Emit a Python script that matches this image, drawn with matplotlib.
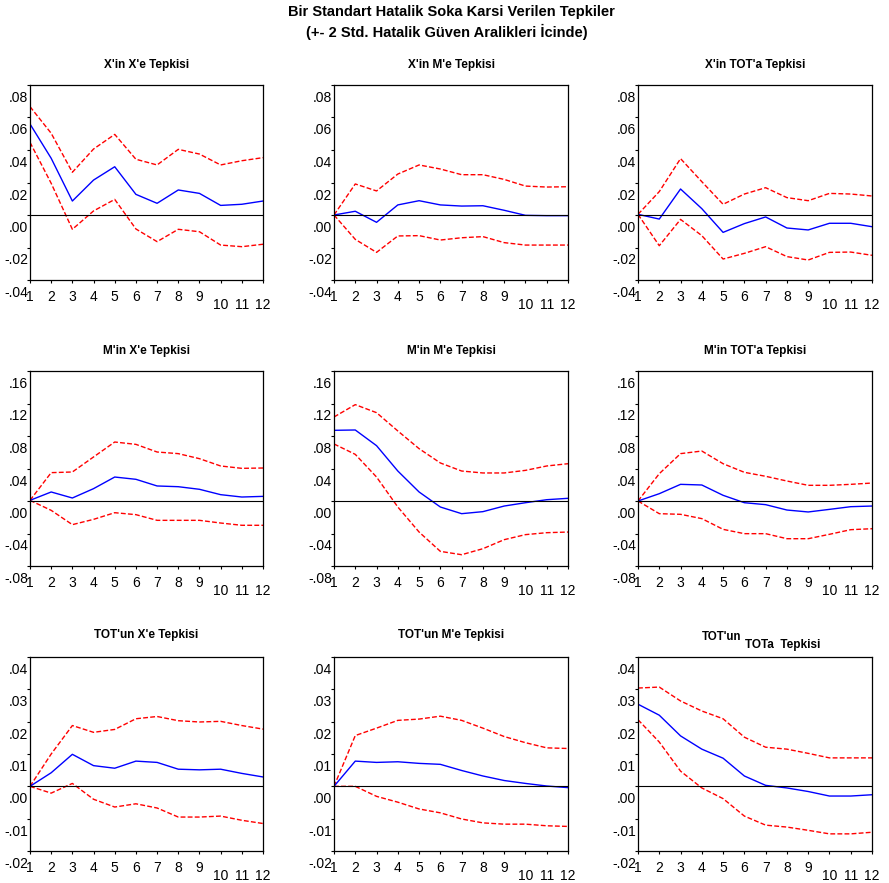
import matplotlib
matplotlib.use("Agg")
import matplotlib.pyplot as plt
from matplotlib.transforms import ScaledTranslation

plt.rcParams['font.family'] = ['Liberation Sans', 'DejaVu Sans']

# ---------------- data ----------------
periods = list(range(1, 13))
x_tick_labels = [str(p) for p in periods]

main_title_1 = "Bir Standart Hatalik Soka Karsi Verilen Tepkiler"
main_title_2 = "(+- 2 Std. Hatalik Güven Aralikleri İcinde)"

panel_titles = ["X'in X'e Tepkisi", "X'in M'e Tepkisi", "X'in TOT'a Tepkisi",
                "M'in X'e Tepkisi", "M'in M'e Tepkisi", "M'in TOT'a Tepkisi",
                "TOT'un X'e Tepkisi", "TOT'un M'e Tepkisi", None]

row1_yticks = [-0.04, -0.02, 0.00, 0.02, 0.04, 0.06, 0.08]
row1_ylabels = ["-.04", "-.02", ".00", ".02", ".04", ".06", ".08"]
row2_yticks = [-0.08, -0.04, 0.00, 0.04, 0.08, 0.12, 0.16]
row2_ylabels = ["-.08", "-.04", ".00", ".04", ".08", ".12", ".16"]
row3_yticks = [-0.02, -0.01, 0.00, 0.01, 0.02, 0.03, 0.04]
row3_ylabels = ["-.02", "-.01", ".00", ".01", ".02", ".03", ".04"]

# X'in X'e
xx_resp = [0.056, 0.0349, 0.0086, 0.0215, 0.0297, 0.0127, 0.0072, 0.0154, 0.0133, 0.0059, 0.0066, 0.0086]
xx_up = [0.0667, 0.0503, 0.0263, 0.0406, 0.0496, 0.0343, 0.0308, 0.0404, 0.0375, 0.0308, 0.0334, 0.0353]
xx_lo = [0.0447, 0.0195, -0.0088, 0.0025, 0.0096, -0.0086, -0.0164, -0.0088, -0.0103, -0.0185, -0.0195, -0.018]
# X'in M'e
xm_resp = [0.0, 0.0023, -0.0045, 0.0062, 0.0088, 0.0062, 0.0055, 0.0057, 0.0029, -0.0002, -0.0004, -0.0004]
xm_up = [0.0, 0.0191, 0.0148, 0.0252, 0.0308, 0.0283, 0.0248, 0.0248, 0.0219, 0.0178, 0.0172, 0.0174]
xm_lo = [0.0, -0.015, -0.023, -0.0129, -0.0127, -0.0154, -0.014, -0.0133, -0.017, -0.0185, -0.0185, -0.0185]
# X'in TOT'a
xt_resp = [0.0004, -0.0025, 0.016, 0.0039, -0.0107, -0.0053, -0.0012, -0.008, -0.0092, -0.0051, -0.0051, -0.0072]
xt_up = [0.0004, 0.0144, 0.0347, 0.0205, 0.0066, 0.0129, 0.0168, 0.0107, 0.0088, 0.0133, 0.0129, 0.0117]
xt_lo = [0.0004, -0.0189, -0.0027, -0.0127, -0.0271, -0.0236, -0.0195, -0.0256, -0.0277, -0.023, -0.0228, -0.0248]
# M'in X'e
mx_resp = [0.0008, 0.0111, 0.0037, 0.0152, 0.0295, 0.0267, 0.0185, 0.0176, 0.0144, 0.0078, 0.0049, 0.0057]
mx_up = [0.0008, 0.0349, 0.0357, 0.0542, 0.0726, 0.0697, 0.0603, 0.0583, 0.0521, 0.0431, 0.0402, 0.0406]
mx_lo = [0.0008, -0.0115, -0.0291, -0.0226, -0.0144, -0.0168, -0.0238, -0.0238, -0.0238, -0.0271, -0.0299, -0.0299]
# M'in M'e
mm_resp = [0.087, 0.0874, 0.0681, 0.0369, 0.0111, -0.0074, -0.0156, -0.0131, -0.0062, -0.0021, 0.0016, 0.0033]
mm_up = [0.1034, 0.1186, 0.1087, 0.0862, 0.0644, 0.0468, 0.0369, 0.0345, 0.0345, 0.0377, 0.0431, 0.0459]
mm_lo = [0.0702, 0.0574, 0.0295, -0.0074, -0.0382, -0.062, -0.0661, -0.0587, -0.0476, -0.0414, -0.039, -0.0382]
# M'in TOT'a
mt_resp = [0.0, 0.009, 0.0205, 0.0197, 0.007, -0.0021, -0.0045, -0.0111, -0.0135, -0.0103, -0.007, -0.0062]
mt_up = [0.0, 0.0336, 0.0583, 0.0615, 0.0459, 0.0353, 0.0304, 0.0246, 0.0193, 0.0193, 0.0205, 0.0221]
mt_lo = [0.0, -0.0156, -0.0164, -0.0217, -0.0349, -0.0402, -0.0402, -0.0464, -0.0464, -0.041, -0.0353, -0.0341]
# TOT'un X'e
tx_resp = [0.0, 0.0042, 0.0099, 0.0064, 0.0056, 0.0078, 0.0074, 0.0053, 0.0051, 0.0053, 0.004, 0.0029]
tx_up = [0.0, 0.01, 0.0188, 0.0167, 0.0176, 0.0209, 0.0216, 0.0203, 0.0199, 0.0201, 0.0188, 0.0177]
tx_lo = [0.0, -0.0021, 0.0009, -0.004, -0.0064, -0.0054, -0.0067, -0.0095, -0.0095, -0.0092, -0.0105, -0.0115]
# TOT'un M'e
tm_resp = [0.0, 0.0078, 0.0074, 0.0076, 0.0071, 0.0068, 0.0049, 0.0032, 0.0018, 0.0009, 0.0001, -0.0004]
tm_up = [0.0, 0.0157, 0.018, 0.0204, 0.0208, 0.0217, 0.0204, 0.018, 0.0154, 0.0135, 0.0119, 0.0117]
tm_lo = [0.0, 0.0, -0.0031, -0.0049, -0.007, -0.0082, -0.0101, -0.0113, -0.0117, -0.0117, -0.0122, -0.0124]
# TOT'un TOT'a
tt_resp = [0.0254, 0.022, 0.0156, 0.0115, 0.0087, 0.0032, 0.0003, -0.0005, -0.0016, -0.003, -0.003, -0.0026]
tt_up = [0.0304, 0.0307, 0.0264, 0.0233, 0.0209, 0.0152, 0.0121, 0.0115, 0.0102, 0.0088, 0.0088, 0.0088]
tt_lo = [0.0206, 0.0137, 0.0047, -0.0005, -0.0038, -0.0092, -0.012, -0.0126, -0.0136, -0.0147, -0.0147, -0.0142]

panel_series = [(xx_resp, xx_up, xx_lo), (xm_resp, xm_up, xm_lo), (xt_resp, xt_up, xt_lo),
                (mx_resp, mx_up, mx_lo), (mm_resp, mm_up, mm_lo), (mt_resp, mt_up, mt_lo),
                (tx_resp, tx_up, tx_lo), (tm_resp, tm_up, tm_lo), (tt_resp, tt_up, tt_lo)]
row_ticks = [(row1_yticks, row1_ylabels), (row2_yticks, row2_ylabels), (row3_yticks, row3_ylabels)]

# ---------------- layout ----------------
W, H = 889, 883
fig = plt.figure(figsize=(W / 100, H / 100), dpi=100)

col_px = [(30, 263), (334, 568), (638, 872)]
row_px = [(85, 280), (371, 566), (657, 851)]
title_y_px = [65, 351, 635]

fig.text(451 / W, 1 - 12 / H, main_title_1, ha='center', va='center', fontsize=10.5, fontweight='bold')
fig.text(447 / W, 1 - 32 / H, main_title_2, ha='center', va='center', fontsize=10.5, fontweight='bold')

down_y = ScaledTranslation(0, -11.5 / 100, fig.dpi_scale_trans)
down_x = ScaledTranslation(0, -8 / 100, fig.dpi_scale_trans)

for i in range(9):
    r, c = divmod(i, 3)
    x0, x1 = col_px[c]
    y0, y1 = row_px[r]
    ax = fig.add_axes([x0 / W, 1 - y1 / H, (x1 - x0) / W, (y1 - y0) / H])
    resp, up, lo = panel_series[i]
    yt, yl = row_ticks[r]
    ax.plot(periods, up, color='#ff0000', lw=1.0, dashes=(3.5, 1.6))
    ax.plot(periods, lo, color='#ff0000', lw=1.0, dashes=(3.5, 1.6))
    ax.plot(periods, resp, color='#0000ff', lw=1.0)
    ax.axhline(0, color='black', lw=0.8)
    ax.set_xlim(1, 12)
    ax.set_ylim(yt[0], yt[-1])
    ax.set_xticks(periods)
    ax.set_xticklabels(x_tick_labels)
    ax.set_yticks(yt)
    ax.set_yticklabels(yl)
    ax.tick_params(direction='out', length=2.5, width=0.8, labelsize=10)
    ax.tick_params(axis='y', pad=-1)
    ax.tick_params(axis='x', pad=4.5)
    for sp in ax.spines.values():
        sp.set_linewidth(0.9)
    for lbl in ax.get_yticklabels():
        lbl.set_transform(lbl.get_transform() + down_y)
    for lbl in ax.get_xticklabels()[9:]:
        lbl.set_transform(lbl.get_transform() + down_x)
    cx = (x0 + x1) / 2
    if panel_titles[i] is not None:
        fig.text(cx / W, 1 - title_y_px[r] / H, panel_titles[i], ha='center', va='center',
                 fontsize=8.5, fontweight='bold')
    else:
        fig.text(722 / W, 1 - 637 / H, "TOT'un", ha='center', va='center', fontsize=8.3, fontweight='bold')
        fig.text(783 / W, 1 - 645 / H, "TOTa  Tepkisi", ha='center', va='center', fontsize=8.5, fontweight='bold')

fig.savefig("out.png", dpi=100, facecolor='white')
